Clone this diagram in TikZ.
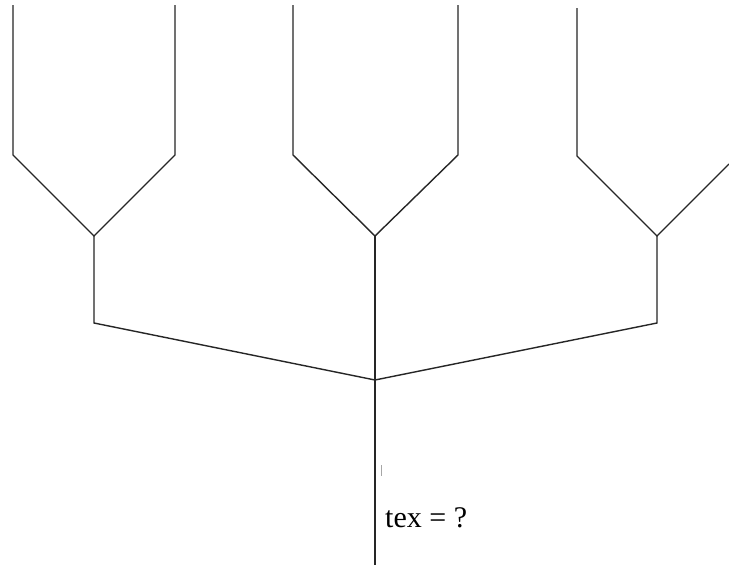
\documentclass[tikz,border=0pt]{standalone}
\usepackage{fontspec}
\setmainfont{Liberation Serif}
\begin{document}
\begin{tikzpicture}[x=1pt,y=-1pt,
  pipe/.style={draw=black!85,line width=1.4pt,line join=miter},
  lbl/.style={anchor=base west,inner sep=0pt,font=\fontsize{30}{34}\selectfont}]
\useasboundingbox[fill=white] (0,0) rectangle (729,565);
% junction points
\coordinate (jl) at (94,236);
\coordinate (jm) at (375,236);
\coordinate (jr) at (657,236);
\coordinate (cl) at (94,323);
\coordinate (cr) at (657,323);
\coordinate (jb) at (375,380);
\coordinate (bot) at (375,565);
% left funnel
\coordinate (l1t) at (13,5);   \coordinate (l1b) at (13,155);
\coordinate (l2t) at (175,5);  \coordinate (l2b) at (175,155);
% middle funnel
\coordinate (m1t) at (293,5);  \coordinate (m1b) at (293,155);
\coordinate (m2t) at (458,5);  \coordinate (m2b) at (458,155);
% right funnel
\coordinate (r1t) at (577,8);  \coordinate (r1b) at (577,156);
\coordinate (r2e) at (729,164);
\draw[pipe] (l1t) -- (l1b) -- (jl) -- (l2b) -- (l2t);
\draw[pipe] (m1t) -- (m1b) -- (jm) -- (m2b) -- (m2t);
\draw[pipe] (r1t) -- (r1b) -- (jr) -- (r2e);
\draw[pipe] (jl) -- (cl) -- (jb) -- (cr) -- (jr);
\draw[pipe] (jm) -- (bot);
\coordinate (tk1) at (381,465);
\coordinate (tk2) at (381,476);
\draw[black!35,line width=0.8pt] (tk1) -- (tk2);
\node[lbl] (t) at (385,527) {tex = ?};
\end{tikzpicture}
\end{document}
